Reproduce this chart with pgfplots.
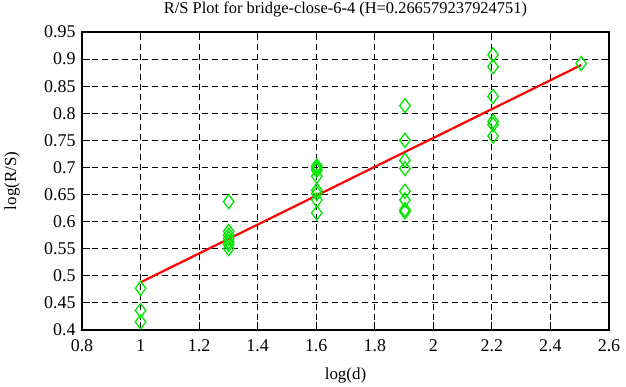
\documentclass[border=0pt]{standalone}
\usepackage{fontspec}
\setmainfont{Liberation Serif}
\usepackage{pgfplots}
\pgfplotsset{compat=1.18}
\definecolor{ptgreen}{RGB}{0,230,0}
\begin{document}
\begin{tikzpicture}
\begin{axis}[
  scale only axis, width=527bp, height=298bp,
  xmin=0.8, xmax=2.6, ymin=0.4, ymax=0.95,
  xtick={0.8,1,...,2.6}, ytick={0.4,0.45,...,0.95},
  /pgf/number format/assume math mode=true,
  xticklabel style={/pgf/number format/fixed, /pgf/number format/precision=2, font=\fontsize{18}{20}\selectfont, yshift=-6bp},
  yticklabel style={/pgf/number format/fixed, /pgf/number format/precision=2, font=\fontsize{18}{20}\selectfont, xshift=-3bp},
  font=\fontsize{16.5}{19}\selectfont,
  tick align=inside, major tick length=8bp,
  every tick/.style={black, line width=1bp},
  axis line style={line width=1.6bp},
  grid=major, major grid style={black, line width=0.9bp, dash pattern=on 6bp off 4bp},
  title={R/S Plot for bridge-close-6-4 (H=0.266579237924751)},
  title style={at={(0.5,1)}, anchor=south, yshift=5bp},
  xlabel={log(d)}, ylabel={log(R/S)},
  xlabel style={font=\fontsize{17}{19}\selectfont, at={(axis description cs:0.5,0)}, anchor=center, yshift=-45bp},
  ylabel style={font=\fontsize{17}{19}\selectfont, at={(axis description cs:0,0.5)}, anchor=center, rotate=0, yshift=70bp},
  clip=false,
]
\addplot[only marks, mark=diamond, mark size=7bp, ptgreen, line width=1.3bp] coordinates {
(1,0.477) (1,0.436) (1,0.415)
(1.301,0.637) (1.301,0.582) (1.301,0.575) (1.301,0.569) (1.301,0.563) (1.301,0.558) (1.301,0.550)
(1.602,0.703) (1.602,0.699) (1.602,0.695) (1.602,0.684) (1.602,0.658) (1.602,0.652) (1.602,0.640) (1.602,0.616)
(1.903,0.814) (1.903,0.750) (1.903,0.713) (1.903,0.698) (1.903,0.656) (1.903,0.640) (1.903,0.622) (1.903,0.618)
(2.204,0.908) (2.204,0.886) (2.204,0.831) (2.204,0.785) (2.204,0.779) (2.204,0.758)
(2.505,0.892)
};
\addplot[red, line width=2.2bp] coordinates {(1,0.488) (2.505,0.889)};
\end{axis}
\pgfresetboundingbox
\path[use as bounding box] (-82bp,-57bp) rectangle (544bp,330bp);
\end{tikzpicture}
\end{document}
